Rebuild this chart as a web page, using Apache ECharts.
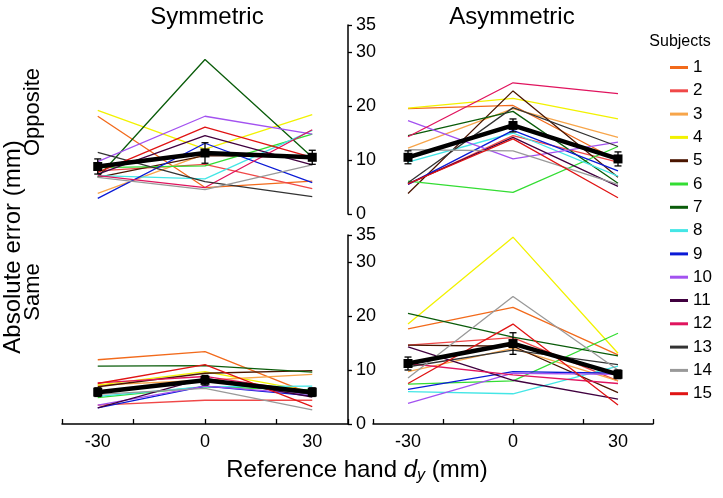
<!DOCTYPE html>
<html>
<head>
    <meta charset="UTF-8">
    <title>Absolute error by subject</title>
    <script src="https://cdn.jsdelivr.net/npm/echarts@6/dist/echarts.min.js"></script>
    <style>
        html, body { margin: 0; padding: 0; background: #fff; }
        #main { width: 723px; height: 498px; }
    </style>
</head>
<body>
    <div id="main"></div>

    <script type="text/javascript">
        // reference hand dy positions (mm)
        const dyValues = [-30, 0, 30];
        const xTickValues = [-40, -20, 0, 20, 40];
        const xLabelValues = [-30, 0, 30];
        const yLabelValues = [0, 10, 20, 30, 35];

        const subjectNames = ['1', '2', '3', '4', '5', '6', '7', '8', '9', '10', '11', '12', '13', '14', '15'];
        const subjectColors = [
            '#f26a1b', '#f04848', '#f7a54a', '#f2f200', '#4a1500',
            '#33dd33', '#0a5c0a', '#44e6e6', '#0a1ad6', '#a352f0',
            '#40003f', '#e0145e', '#333333', '#999999', '#e01414'
        ];

        // one row per subject: error at dy = -30, 0, 30
        const symOpposite = [
            [18.1, 4.9, 6.1], [8.0, 9.2, 4.7], [3.8, 11.1, 10.5], [19.2, 12.0, 18.4], [6.8, 10.8, 10.5],
            [8.6, 8.9, 14.8], [6.8, 28.6, 10.5], [7.1, 6.5, 15.5], [2.9, 13.1, 5.8], [9.7, 18.1, 14.8],
            [7.4, 14.5, 9.1], [7.1, 4.9, 15.6], [11.4, 6.0, 3.2], [6.8, 4.5, 9.1], [7.7, 16.1, 10.5]
        ];
        const asymOpposite = [
            [19.5, 20.1, 9.9], [5.5, 14.5, 9.6], [12.2, 19.5, 14.2], [19.6, 21.4, 17.6], [3.8, 22.8, 6.8],
            [6.1, 4.0, 12.5], [14.5, 19.0, 5.7], [9.6, 15.0, 7.0], [5.5, 15.5, 8.0], [17.3, 10.2, 13.3],
            [5.6, 14.2, 5.1], [14.3, 24.3, 22.3], [5.8, 19.7, 12.5], [11.9, 11.7, 5.5], [5.6, 13.9, 3.0]
        ];
        const symSame = [
            [11.9, 13.4, 5.5], [3.5, 4.4, 4.4], [7.2, 8.1, 9.2], [7.2, 9.7, 6.0], [6.9, 9.4, 9.9],
            [4.9, 6.9, 6.3], [10.7, 10.8, 9.6], [5.1, 6.9, 7.0], [3.0, 7.0, 5.2], [3.5, 7.0, 5.5],
            [3.0, 8.5, 5.0], [7.6, 8.8, 5.8], [6.0, 8.0, 5.5], [5.5, 6.6, 2.6], [7.5, 11.0, 3.2]
        ];
        const asymSame = [
            [17.6, 21.6, 12.8], [14.6, 16.0, 8.0], [9.7, 14.0, 8.0], [18.5, 34.6, 13.1], [14.6, 14.4, 5.8],
            [7.4, 8.0, 16.8], [20.5, 16.1, 12.6], [6.0, 5.6, 10.7], [6.4, 9.7, 9.4], [3.8, 9.4, 9.2],
            [14.3, 8.1, 4.6], [11.2, 9.1, 7.5], [10.6, 13.7, 11.0], [8.5, 23.6, 10.0], [7.5, 18.5, 3.5]
        ];

        // group mean and error bar half-length
        const symOppositeMean = [8.8, 11.3, 10.5];
        const symOppositeErr = [1.4, 1.9, 1.3];
        const asymOppositeMean = [10.5, 16.4, 10.2];
        const asymOppositeErr = [1.2, 1.2, 1.3];
        const symSameMean = [5.9, 8.1, 5.9];
        const symSameErr = [0.8, 0.9, 0.8];
        const asymSameMean = [11.2, 14.9, 9.2];
        const asymSameErr = [1.2, 2.0, 0.8];

        const FONT = 'Liberation Sans, Arial, sans-serif';

        const panels = [
            { rows: symOpposite, mean: symOppositeMean, err: symOppositeErr },
            { rows: asymOpposite, mean: asymOppositeMean, err: asymOppositeErr },
            { rows: symSame, mean: symSameMean, err: symSameErr },
            { rows: asymSame, mean: asymSameMean, err: asymSameErr }
        ];

        const grids = [
            { left: 62, top: 25, width: 286, height: 189 },
            { left: 373, top: 25, width: 280, height: 189 },
            { left: 62, top: 235, width: 286, height: 189 },
            { left: 373, top: 235, width: 280, height: 189 }
        ];

        const xAxes = grids.map((g, i) => ({
            gridIndex: i,
            type: 'value',
            min: -40,
            max: 40,
            show: i >= 2,
            splitLine: { show: false },
            axisLine: { onZero: false, lineStyle: { color: '#000', width: 1.5 } },
            axisTick: { inside: true, length: 5, customValues: xTickValues, lineStyle: { color: '#000', width: 1.3 } },
            axisLabel: { customValues: xLabelValues, color: '#000', fontSize: 18, fontFamily: FONT, margin: 9 }
        }));

        const yAxes = grids.map((g, i) => ({
            gridIndex: i,
            type: 'value',
            min: 0,
            max: 35,
            show: i % 2 === 0,
            position: 'right',
            splitLine: { show: false },
            axisLine: { show: true, onZero: false, lineStyle: { color: '#000', width: 1.5 } },
            axisTick: { length: 4, customValues: yLabelValues, lineStyle: { color: '#000', width: 1.3 } },
            axisLabel: { customValues: yLabelValues, color: '#000', fontSize: 18, fontFamily: FONT, margin: 8 }
        }));

        function errorBarItem(params, api) {
            const x = api.value(0);
            const lo = api.coord([x, api.value(1)]);
            const hi = api.coord([x, api.value(2)]);
            const cap = 3.5;
            const style = { stroke: '#000', lineWidth: 1.3 };
            return {
                type: 'group',
                children: [
                    { type: 'line', shape: { x1: lo[0], y1: lo[1], x2: hi[0], y2: hi[1] }, style: style },
                    { type: 'line', shape: { x1: lo[0] - cap, y1: lo[1], x2: lo[0] + cap, y2: lo[1] }, style: style },
                    { type: 'line', shape: { x1: hi[0] - cap, y1: hi[1], x2: hi[0] + cap, y2: hi[1] }, style: style }
                ]
            };
        }

        const series = [];
        panels.forEach((p, i) => {
            p.rows.forEach((vals, k) => {
                series.push({
                    name: subjectNames[k],
                    type: 'line',
                    xAxisIndex: i,
                    yAxisIndex: i,
                    color: subjectColors[k],
                    symbol: 'none',
                    lineStyle: { width: 1.3, color: subjectColors[k] },
                    data: dyValues.map((x, j) => [x, vals[j]]),
                    z: 2
                });
            });
            series.push({
                name: 'mean',
                type: 'line',
                xAxisIndex: i,
                yAxisIndex: i,
                symbol: 'rect',
                symbolSize: 9,
                itemStyle: { color: '#000' },
                lineStyle: { width: 4.5, color: '#000' },
                data: dyValues.map((x, j) => [x, p.mean[j]]),
                z: 5
            });
            series.push({
                name: 'sem',
                type: 'custom',
                xAxisIndex: i,
                yAxisIndex: i,
                renderItem: errorBarItem,
                data: dyValues.map((x, j) => [x, p.mean[j] - p.err[j], p.mean[j] + p.err[j]]),
                z: 6
            });
        });

        var myChart = echarts.init(document.getElementById('main'));

        var option = {
            animation: false,
            backgroundColor: '#fff',
            grid: grids,
            xAxis: xAxes,
            yAxis: yAxes,
            legend: {
                data: subjectNames,
                orient: 'vertical',
                left: 665,
                top: 54,
                icon: 'rect',
                itemWidth: 18,
                itemHeight: 3,
                itemGap: 6.3,
                textStyle: { color: '#000', fontSize: 17, lineHeight: 17, fontFamily: FONT }
            },
            graphic: [
                { type: 'text', x: 207, y: 17, style: { text: 'Symmetric', font: '24px ' + FONT, fill: '#000', align: 'center', verticalAlign: 'middle' } },
                { type: 'text', x: 512, y: 17, style: { text: 'Asymmetric', font: '24px ' + FONT, fill: '#000', align: 'center', verticalAlign: 'middle' } },
                { type: 'text', x: 33, y: 112, rotation: Math.PI / 2, style: { text: 'Opposite', font: '22px ' + FONT, fill: '#000', align: 'center', verticalAlign: 'middle' } },
                { type: 'text', x: 33, y: 292, rotation: Math.PI / 2, style: { text: 'Same', font: '22px ' + FONT, fill: '#000', align: 'center', verticalAlign: 'middle' } },
                { type: 'text', x: 13, y: 247, rotation: Math.PI / 2, style: { text: 'Absolute error (mm)', font: '24px ' + FONT, fill: '#000', align: 'center', verticalAlign: 'middle' } },
                { type: 'text', x: 680, y: 42, style: { text: 'Subjects', font: '16px ' + FONT, fill: '#000', align: 'center', verticalAlign: 'middle' } },
                {
                    type: 'text', x: 357, y: 470,
                    style: {
                        text: '{n|Reference hand }{i|d}{s|y}{n| (mm)}',
                        align: 'center',
                        verticalAlign: 'middle',
                        rich: {
                            n: { fontSize: 24, fontFamily: FONT, color: '#000' },
                            i: { fontSize: 24, fontFamily: FONT, fontStyle: 'italic', color: '#000' },
                            s: { fontSize: 16, fontFamily: FONT, fontStyle: 'italic', color: '#000', padding: [12, 0, 0, 0] }
                        }
                    }
                }
            ],
            series: series
        };

        myChart.setOption(option);
    </script>
</body>
</html>
